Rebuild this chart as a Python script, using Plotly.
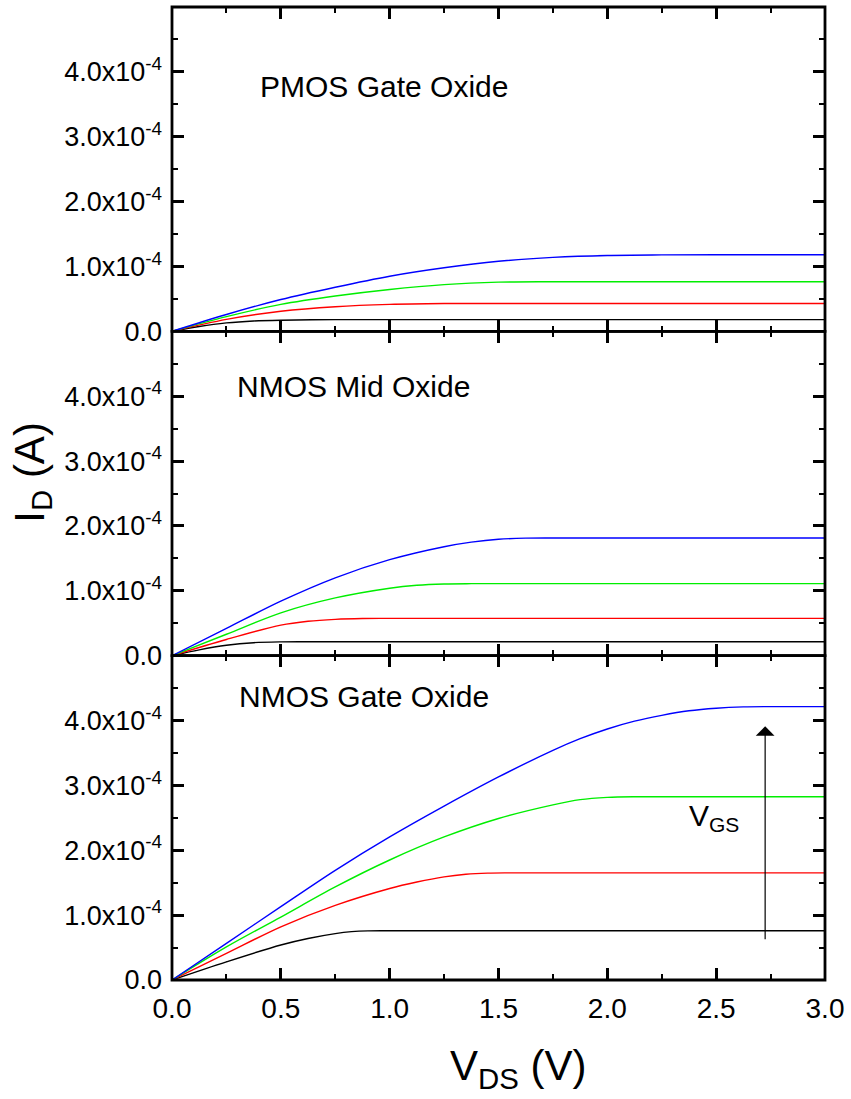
import numpy as np
import plotly.graph_objects as go
from plotly.subplots import make_subplots

# Drain current in units of 1e-4 A, sampled at the listed V_DS points (V)

# PMOS gate oxide
pg_black_v = [0, 0.125, 0.25, 0.375, 0.5, 0.75, 1.0, 3.0]
pg_black_i = [0, 0.075, 0.13, 0.16, 0.172, 0.18, 0.18, 0.18]
pg_red_v = [0, 0.25, 0.5, 0.75, 1.0, 1.25, 1.5, 3.0]
pg_red_i = [0, 0.185, 0.31, 0.38, 0.415, 0.428, 0.43, 0.43]
pg_green_v = [0, 0.25, 0.5, 0.75, 1.0, 1.25, 1.5, 1.75, 3.0]
pg_green_i = [0, 0.226, 0.415, 0.545, 0.646, 0.72, 0.758, 0.765, 0.765]
pg_blue_v = [0, 0.25, 0.5, 0.75, 1.0, 1.25, 1.5, 1.75, 2.0, 2.25, 2.5, 3.0]
pg_blue_i = [0, 0.26, 0.49, 0.68, 0.85, 0.98, 1.08, 1.14, 1.17, 1.178, 1.18, 1.18]

# NMOS mid oxide
nm_black_v = [0, 0.125, 0.25, 0.375, 0.5, 0.625, 3.0]
nm_black_i = [0, 0.09, 0.16, 0.20, 0.213, 0.215, 0.215]
nm_red_v = [0, 0.25, 0.5, 0.625, 0.75, 0.875, 1.0, 3.0]
nm_red_i = [0, 0.25, 0.47, 0.53, 0.56, 0.573, 0.575, 0.575]
nm_green_v = [0, 0.25, 0.5, 0.75, 1.0, 1.125, 1.25, 1.375, 3.0]
nm_green_i = [0, 0.33, 0.66, 0.89, 1.04, 1.085, 1.105, 1.11, 1.11]
nm_blue_v = [0, 0.25, 0.5, 0.75, 1.0, 1.25, 1.375, 1.5, 1.625, 1.75, 3.0]
nm_blue_i = [0, 0.42, 0.84, 1.20, 1.48, 1.68, 1.75, 1.795, 1.812, 1.815, 1.815]

# NMOS gate oxide
ng_black_v = [0, 0.25, 0.5, 0.625, 0.75, 0.825, 0.9, 1.0, 3.0]
ng_black_i = [0, 0.28, 0.54, 0.64, 0.715, 0.745, 0.758, 0.76, 0.76]
ng_red_v = [0, 0.25, 0.5, 0.75, 1.0, 1.125, 1.25, 1.35, 1.45, 1.55, 3.0]
ng_red_i = [0, 0.41, 0.82, 1.15, 1.41, 1.51, 1.59, 1.63, 1.648, 1.652, 1.652]
ng_green_v = [0, 0.25, 0.5, 0.75, 1.0, 1.25, 1.5, 1.75, 1.875, 2.0, 2.125, 3.0]
ng_green_i = [0, 0.51, 0.97, 1.435, 1.85, 2.205, 2.49, 2.70, 2.78, 2.815, 2.825, 2.825]
ng_blue_v = [0, 0.25, 0.5, 0.75, 1.0, 1.25, 1.5, 1.75, 1.875, 2.0, 2.125, 2.25,
             2.375, 2.5, 2.625, 2.75, 3.0]
ng_blue_i = [0, 0.565, 1.13, 1.69, 2.205, 2.68, 3.13, 3.54, 3.72, 3.87, 3.99, 4.08,
             4.15, 4.19, 4.21, 4.215, 4.215]

panel_titles = ["PMOS Gate Oxide", "NMOS Mid Oxide", "NMOS Gate Oxide"]
panel_title_pos = [(0.393, 3.78), (0.288, 4.15), (0.297, 4.37)]

y_tick_vals = [0, 1, 2, 3, 4]
y_tick_text = ["0.0", "1.0x10<sup>-4</sup>", "2.0x10<sup>-4</sup>",
               "3.0x10<sup>-4</sup>", "4.0x10<sup>-4</sup>"]
x_tick_vals = [0, 0.5, 1.0, 1.5, 2.0, 2.5, 3.0]
x_tick_text = ["0.0", "0.5", "1.0", "1.5", "2.0", "2.5", "3.0"]

# V_GS arrow (bottom panel): x, start and end current in 1e-4 A
vgs_arrow_x = 2.725
vgs_arrow_from = 0.605
vgs_arrow_to = 3.91

colors = ["#000000", "#ff0000", "#00ee00", "#0000ff"]
SCALE = 1e-4
FONT = "Liberation Sans, Arial, sans-serif"

panels = [
    [(pg_black_v, pg_black_i), (pg_red_v, pg_red_i), (pg_green_v, pg_green_i), (pg_blue_v, pg_blue_i)],
    [(nm_black_v, nm_black_i), (nm_red_v, nm_red_i), (nm_green_v, nm_green_i), (nm_blue_v, nm_blue_i)],
    [(ng_black_v, ng_black_i), (ng_red_v, ng_red_i), (ng_green_v, ng_green_i), (ng_blue_v, ng_blue_i)],
]

fig = make_subplots(rows=3, cols=1, shared_xaxes=True, vertical_spacing=0)

for row, curves in enumerate(panels, start=1):
    for (v, i), c in zip(curves, colors):
        fig.add_trace(
            go.Scatter(x=v, y=np.array(i) * SCALE, mode="lines",
                       line=dict(color=c, width=1.4, shape="spline", smoothing=0.9),
                       showlegend=False, hoverinfo="skip"),
            row=row, col=1)

# Axis lines are invisible (frames are drawn as shapes so shared panel edges stay thin);
# ticks are mirrored on all four sides of each panel.
axis_common = dict(showline=True, linecolor="rgba(0,0,0,0)", linewidth=0.1, mirror="ticks",
                   ticks="inside", ticklen=12, tickwidth=2.5, tickcolor="black",
                   showgrid=False, zeroline=False)

for row in (1, 2, 3):
    fig.update_xaxes(range=[0, 3], tickvals=x_tick_vals, ticktext=x_tick_text,
                     showticklabels=(row == 3), ticklabelstandoff=4,
                     tickfont=dict(family=FONT, size=28, color="black"),
                     minor=dict(ticks="inside", ticklen=6, tickwidth=2, tickcolor="black",
                                tickvals=[0.25, 0.75, 1.25, 1.75, 2.25, 2.75]),
                     row=row, col=1, **axis_common)
    fig.update_yaxes(range=[0, 5 * SCALE],
                     tickvals=[t * SCALE for t in y_tick_vals], ticktext=y_tick_text,
                     ticklabelstandoff=4,
                     tickfont=dict(family=FONT, size=27, color="black"),
                     minor=dict(ticks="inside", ticklen=6, tickwidth=2, tickcolor="black",
                                tickvals=[t * SCALE for t in (0.5, 1.5, 2.5, 3.5, 4.5)]),
                     row=row, col=1, **axis_common)

shapes = []
for k in range(3):
    suffix = "" if k == 0 else str(k + 1)
    shapes.append(dict(type="rect", xref="x" + suffix + " domain", yref="y" + suffix + " domain",
                       x0=0, x1=1, y0=0, y1=1, line=dict(color="black", width=2.8),
                       layer="above"))

annotations = []
for k, (title, (tx, ty)) in enumerate(zip(panel_titles, panel_title_pos)):
    suffix = "" if k == 0 else str(k + 1)
    annotations.append(dict(text=title, x=tx, y=ty * SCALE, xref="x" + suffix, yref="y" + suffix,
                            xanchor="left", yanchor="middle", showarrow=False,
                            font=dict(family=FONT, size=30, color="black")))

annotations.append(dict(text="", x=vgs_arrow_x, y=vgs_arrow_to * SCALE,
                        ax=vgs_arrow_x, ay=vgs_arrow_from * SCALE,
                        xref="x3", yref="y3", axref="x3", ayref="y3",
                        showarrow=True, arrowhead=1, arrowsize=2.6, arrowwidth=1.2,
                        arrowcolor="black"))
annotations.append(dict(text="V<sub>GS</sub>", x=2.49, y=2.50 * SCALE, xref="x3", yref="y3",
                        xanchor="center", yanchor="middle", showarrow=False,
                        font=dict(family=FONT, size=30, color="black")))

annotations.append(dict(text="V<sub>DS</sub> (V)", x=0.53, y=-0.062, xref="paper", yref="paper",
                        xanchor="center", yanchor="top", showarrow=False,
                        font=dict(family=FONT, size=42, color="black")))
annotations.append(dict(text="I<sub>D</sub> (A)", x=-0.215, y=0.522, xref="paper", yref="paper",
                        xanchor="center", yanchor="middle", showarrow=False, textangle=-90,
                        font=dict(family=FONT, size=42, color="black")))

fig.update_layout(width=851, height=1099,
                  margin=dict(l=172, r=23, t=7, b=119, pad=0),
                  paper_bgcolor="white", plot_bgcolor="white",
                  shapes=shapes, annotations=annotations, showlegend=False)

fig.write_html("out.html")
